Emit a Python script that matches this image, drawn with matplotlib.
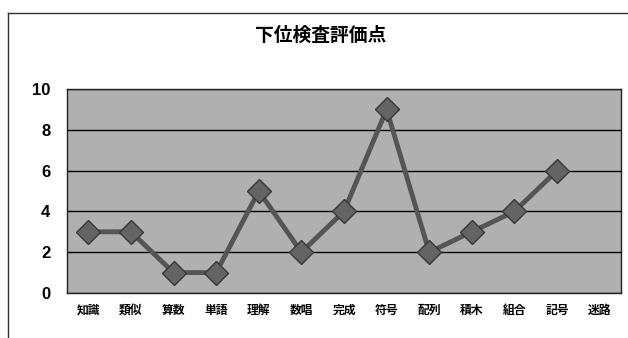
import matplotlib
matplotlib.use("Agg")
import matplotlib.pyplot as plt
from matplotlib.lines import Line2D

plt.rcParams['font.family'] = ['Noto Sans CJK JP', 'DejaVu Sans']

title = "下位検査評価点"
categories = ["知識", "類似", "算数", "単語", "理解", "数唱", "完成", "符号", "配列", "積木", "組合", "記号", "迷路"]
values = [3, 3, 1, 1, 5, 2, 4, 9, 2, 3, 4, 6, None]
yticks = [0, 2, 4, 6, 8, 10]

fig = plt.figure(figsize=(6.28, 3.38), dpi=100)
fig.patch.set_facecolor('white')

# outer chart frame (left and top edges)
fig.add_artist(Line2D([8/628, 8/628], [0, 1 - 13/338], transform=fig.transFigure, color='#333333', lw=1))
fig.add_artist(Line2D([8/628, 1], [1 - 13/338, 1 - 13/338], transform=fig.transFigure, color='#333333', lw=1))

ax = fig.add_axes([67/628, 45/338, (621-67)/628, (293-89)/338])
ax.set_facecolor('#b0b0b0')

xs = [i for i, v in enumerate(values) if v is not None]
ys = [v for v in values if v is not None]
ax.plot(xs, ys, color='#555555', lw=3.5, zorder=3,
        marker='D', markersize=12, markerfacecolor='#646464',
        markeredgecolor='#383838', markeredgewidth=1.0)

ax.set_xlim(-0.5, len(categories) - 0.5)
ax.set_ylim(0, 10)
ax.set_yticks(yticks)
ax.set_yticklabels([str(t) for t in yticks], fontsize=12, fontweight='bold',
                   family=['Liberation Sans Narrow', 'Liberation Sans', 'DejaVu Sans'])
ax.set_xticks(range(len(categories)))
ax.set_xticklabels(categories, fontsize=8.5, fontweight='bold')
ax.tick_params(axis='both', length=0)
ax.tick_params(axis='y', pad=12)
ax.tick_params(axis='x', pad=8)
ax.yaxis.grid(True, color='black', lw=1)
ax.set_axisbelow(True)
for s in ax.spines.values():
    s.set_color('#222222')
    s.set_linewidth(1)

fig.text(0.51, 1 - 35/338, title, ha='center', va='center', fontsize=13.5, fontweight='bold')

fig.savefig('out.png', dpi=100)
